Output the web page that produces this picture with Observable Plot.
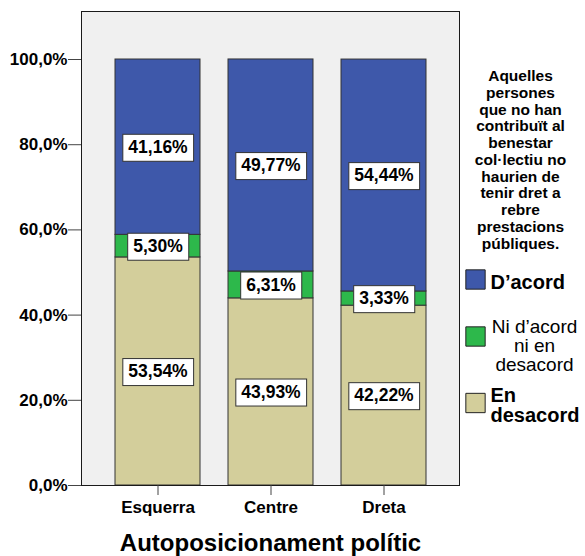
<!DOCTYPE html>
<html><head><meta charset="utf-8">
<script src="https://cdn.jsdelivr.net/npm/d3@7"></script>
<script src="https://cdn.jsdelivr.net/npm/@observablehq/plot@0.6"></script>
<style>body{margin:0;background:#fff}</style>
</head><body><div id="chart"></div>
<script>
const categories = ["Esquerra", "Centre", "Dreta"];
const series = ["En desacord", "Ni d’acord ni en desacord", "D’acord"];
const enDesacord = [53.54, 43.93, 42.22];
const niAcordNiDesacord = [5.30, 6.31, 3.33];
const dAcord = [41.16, 49.77, 54.44];
const colors = ["#d3ce9b", "#2db84b", "#3e58aa"];
const yTicks = [0, 20, 40, 60, 80, 100];
const xTitle = "Autoposicionament polític";
const legendTitle = ["Aquelles", "persones", "que no han", "contribuït al", "benestar", "col·lectiu no", "haurien de", "tenir dret a", "rebre", "prestacions", "públiques."];
const legendLabels = ["En\ndesacord", "Ni d’acord\nni en\ndesacord", "D’acord"];

const seriesValues = [enDesacord, niAcordNiDesacord, dAcord];
const rows = series.flatMap((s, i) => categories.map((c, j) => ({cat: c, series: s, value: seriesValues[i][j]})));
const fmtPct = v => v.toFixed(2).replace(".", ",") + "%";
const fmtTick = v => v.toFixed(1).replace(".", ",") + "%";
const font = "'Liberation Sans', Arial, sans-serif";

// legend layout (pixel offsets from the frame's top-right corner)
const swatchDy = [391.5, 325, 268];
const labelDx = [31, 75, 31];
const labelDy = [394, 334, 271];
const labelAnchor = ["start", "middle", "start"];
const labelWeight = ["bold", "normal", "bold"];
const labelSize = [20, 19, 20];
const labelLH = [1.0, 1.0, 1.0];

const legendMarks = [];
legendMarks.push(Plot.text([legendTitle.join("\n")], {
  frameAnchor: "top-right", dx: 61, dy: 148, text: d => d,
  textAnchor: "middle", lineAnchor: "middle", lineHeight: 1.08,
  fontSize: 15.5, fontWeight: "bold", fill: "black"
}));
series.forEach((s, i) => {
  legendMarks.push(Plot.dot([s], {
    frameAnchor: "top-right", dx: 16, dy: swatchDy[i], symbol: "square", r: 10.9,
    fill: colors[i], stroke: "#222", strokeWidth: 1
  }));
  legendMarks.push(Plot.text([legendLabels[i]], {
    frameAnchor: "top-right", dx: labelDx[i], dy: labelDy[i], text: d => d,
    textAnchor: labelAnchor[i], lineAnchor: "middle", lineHeight: labelLH[i],
    fontSize: labelSize[i], fontWeight: labelWeight[i], fill: "black"
  }));
});

const chart = Plot.plot({
  width: 585,
  height: 556,
  marginLeft: 81,
  marginRight: 126,
  marginTop: 11,
  marginBottom: 71,
  style: {fontFamily: font, background: "white", color: "black"},
  x: {domain: categories, paddingInner: 0.251, paddingOuter: 0.29, label: null},
  y: {domain: [0, 111.27], label: null},
  color: {domain: series, range: colors},
  marks: [
    Plot.frame({fill: "#f0f0f0", stroke: null}),
    Plot.barY(rows, {x: "cat", y: "value", fill: "series", order: series, stroke: "#333", strokeWidth: 1}),
    Plot.text(rows, Plot.stackY({
      x: "cat", y: "value", z: "series", order: series,
      text: d => fmtPct(d.value), fontSize: 17.5, fontWeight: "bold", fill: "black",
      ariaDescription: "vlabels"
    })),
    Plot.frame({stroke: "#1a1a1a", strokeWidth: 1}),
    Plot.axisY({ticks: yTicks, tickFormat: fmtTick, tickSize: 13, tickPadding: 1, fontSize: 17, fontWeight: "bold", stroke: "#444", fill: "black", label: null}),
    Plot.axisX({tickSize: 10, tickPadding: 5, fontSize: 17, fontWeight: "bold", stroke: "#444", fill: "black", label: null}),
    Plot.text([xTitle], {frameAnchor: "bottom", dy: 58, text: d => d, lineAnchor: "middle", textAnchor: "middle", fontSize: 24, fontWeight: "bold", fill: "black"}),
    ...legendMarks
  ]
});
document.getElementById("chart").append(chart);

// white boxes behind value labels
const padX = 5.5, padY = 3.5;
chart.querySelectorAll('g[aria-description="vlabels"] text').forEach(t => {
  const b = t.getBBox();
  const r = document.createElementNS("http://www.w3.org/2000/svg", "rect");
  r.setAttribute("x", b.x - padX);
  r.setAttribute("y", b.y - padY + 1);
  r.setAttribute("width", b.width + 2 * padX);
  r.setAttribute("height", b.height + 2 * padY);
  r.setAttribute("fill", "white");
  r.setAttribute("stroke", "#333");
  r.setAttribute("stroke-width", 1);
  const tr = t.getAttribute("transform");
  if (tr) r.setAttribute("transform", tr);
  t.parentNode.insertBefore(r, t);
});
</script>
</body></html>
